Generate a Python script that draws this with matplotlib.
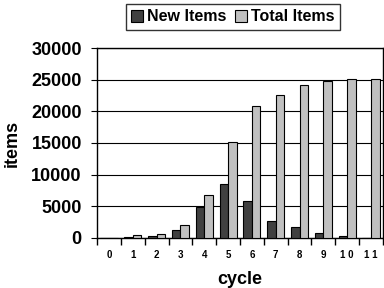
import matplotlib
matplotlib.use("Agg")
import matplotlib.pyplot as plt
import numpy as np

plt.rcParams['font.family'] = ['Liberation Sans', 'DejaVu Sans']
plt.rcParams['font.weight'] = 'bold'
plt.rcParams['axes.labelweight'] = 'bold'

cycles = [0, 1, 2, 3, 4, 5, 6, 7, 8, 9, 10, 11]
new_items = [0, 200, 250, 1300, 4900, 8500, 5850, 2700, 1650, 700, 300, 0]
total_items = [0, 400, 650, 2000, 6800, 15100, 20900, 22600, 24100, 24800, 25100, 25100]

fig = plt.figure(figsize=(3.84, 2.88), dpi=100)
ax = fig.add_axes([0.253, 0.174, 0.744, 0.659])

x = np.arange(len(cycles))
w = 0.36
ax.bar(x - w / 2, new_items, w, color='#404040', edgecolor='black', linewidth=0.8,
       label='New Items', zorder=3)
ax.bar(x + w / 2, total_items, w, color='#c0c0c0', edgecolor='black', linewidth=0.8,
       label='Total Items', zorder=3)

ax.set_xlim(-0.5, len(cycles) - 0.5)
ax.set_ylim(0, 30000)
ax.set_yticks([0, 5000, 10000, 15000, 20000, 25000, 30000])
ax.yaxis.grid(True, color='black', linewidth=0.8, zorder=0)
ax.tick_params(axis='y', labelsize=13, length=4, width=0.8, pad=7)

# category boundary ticks, labels centred in each category
ax.set_xticks(np.arange(len(cycles) + 1) - 0.5)
ax.set_xticklabels([])
ax.set_xticks(x, minor=True)
ax.set_xticklabels([' '.join(str(c)) for c in cycles], minor=True, fontsize=7)
ax.tick_params(axis='x', which='major', length=5, width=1)
ax.tick_params(axis='x', which='minor', length=0, pad=9)

for s in ax.spines.values():
    s.set_linewidth(1)

ax.set_xlabel('cycle', fontsize=13, labelpad=8)
ax.set_ylabel('items', fontsize=13, labelpad=8)

fig.legend(loc='upper center', bbox_to_anchor=(0.606, 1.015), ncol=2, fontsize=11.5,
           frameon=True, fancybox=False, edgecolor='black', handlelength=0.75,
           handleheight=0.8, handletextpad=0.25, columnspacing=0.5, borderpad=0.35)

fig.savefig('out.png', dpi=100)
